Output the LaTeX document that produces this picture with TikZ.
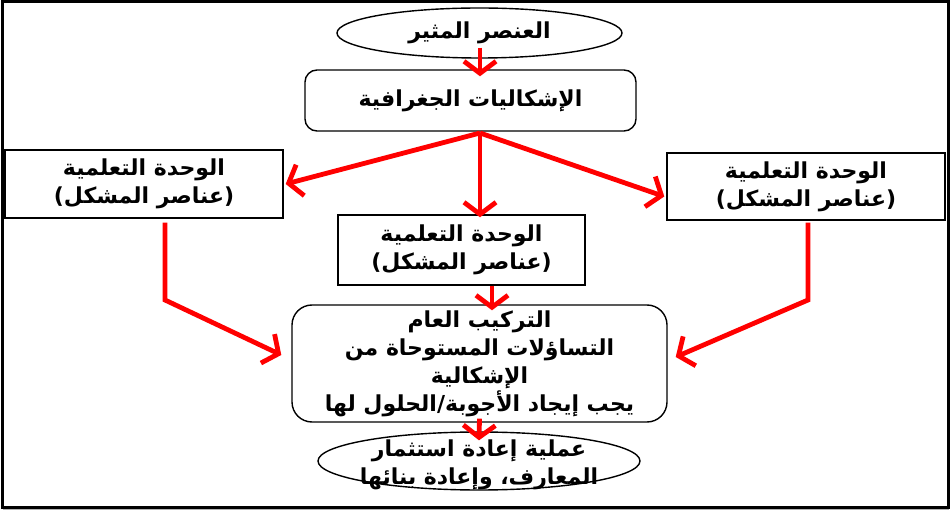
\documentclass[tikz,border=0pt]{standalone}
\usepackage{fontspec}
\usetikzlibrary{arrows.meta,shapes.geometric,calc}
\TeXXeTstate=1
\newfontfamily\arabicfont[Script=Arabic,BoldFont=DejaVu Sans Bold]{DejaVu Sans}
\begin{document}
\begin{tikzpicture}[x=1pt,y=-1pt,
  txt/.style={font=\arabicfont\bfseries\fontsize{22}{28}\selectfont, align=center, inner sep=0pt},
  every node/.style={txt},
  oval/.style={draw, ellipse, line width=1.4pt},
  rbox/.style={draw, rounded corners=12pt, line width=1.4pt},
  sbox/.style={draw, line width=1.4pt},
  redarrow/.style={draw=red, line width=4.8pt, -{Straight Barb[length=12pt,width=32pt]}}
]
\useasboundingbox (0,0) rectangle (951,510);
\draw[line width=2pt, gray!60] (3,509.5) -- (949,509.5);
\draw[line width=3pt] (2,2) rectangle (948,507.5);

\node[oval, minimum width=285pt, minimum height=50pt] (e1) at (479.5,33) {\beginR العنصر المثير\endR};
\node[rbox, minimum width=331pt, minimum height=61pt] (r1) at (470.5,100.5) {\beginR الإشكاليات الجغرافية\endR};
\node[sbox, minimum width=278pt, minimum height=68pt] (bL) at (144,184) {\beginR الوحدة التعلمية\endR\\)\beginR عناصر المشكل\endR(};
\node[sbox, minimum width=247pt, minimum height=70pt] (bM) at (461.5,250) {\beginR الوحدة التعلمية\endR\\)\beginR عناصر المشكل\endR(};
\node[sbox, minimum width=278pt, minimum height=67pt] (bR) at (806,186.5) {\beginR الوحدة التعلمية\endR\\)\beginR عناصر المشكل\endR(};
\node[rbox, rounded corners=20pt, minimum width=375pt, minimum height=117pt] (r2) at (479.5,363.5) {\beginR التركيب العام\endR\\\beginR التساؤلات المستوحاة من\endR\\\beginR الإشكالية\endR\\\beginR يجب إيجاد الأجوبة/الحلول لها\endR};
\node[oval, minimum width=322pt, minimum height=58pt,
      label={[txt, yshift=-4pt]center:{\beginR عملية إعادة استثمار\endR\\\beginR المعارف، وإعادة بنائها\endR}}] (e2) at (479,461) {};

\coordinate (hub) at (480,133);
\coordinate (mx) at (492,0);
\coordinate (lx) at (165,0);
\coordinate (rx) at (808,0);
\coordinate (lk) at (165,300);
\coordinate (rk) at (808,300);

\draw[redarrow] ([yshift=11pt]e1.south -| hub) -- ([yshift=-7pt]r1.north -| hub);
\draw[redarrow] (hub) -- ([xshift=2pt]bL.east);
\draw[redarrow] (hub) -- ([yshift=-3pt]hub |- bM.north);
\draw[redarrow] (hub) -- ([xshift=-2pt,yshift=-10pt]bR.west);
\draw[redarrow] (bM.south -| mx) -- ([yshift=-6pt]r2.north -| mx);
\draw[redarrow] ([yshift=4pt]r2.south) -- ([yshift=-9pt]e2.north);
\draw[redarrow] ([yshift=-4pt]bL.south -| lx) -- (lk) -- ([xshift=-10pt,yshift=8.5pt]r2.west);
\draw[redarrow] ([yshift=-2pt]bR.south -| rx) -- (rk) -- ([xshift=8pt,yshift=6.5pt]r2.east);
\end{tikzpicture}
\end{document}
